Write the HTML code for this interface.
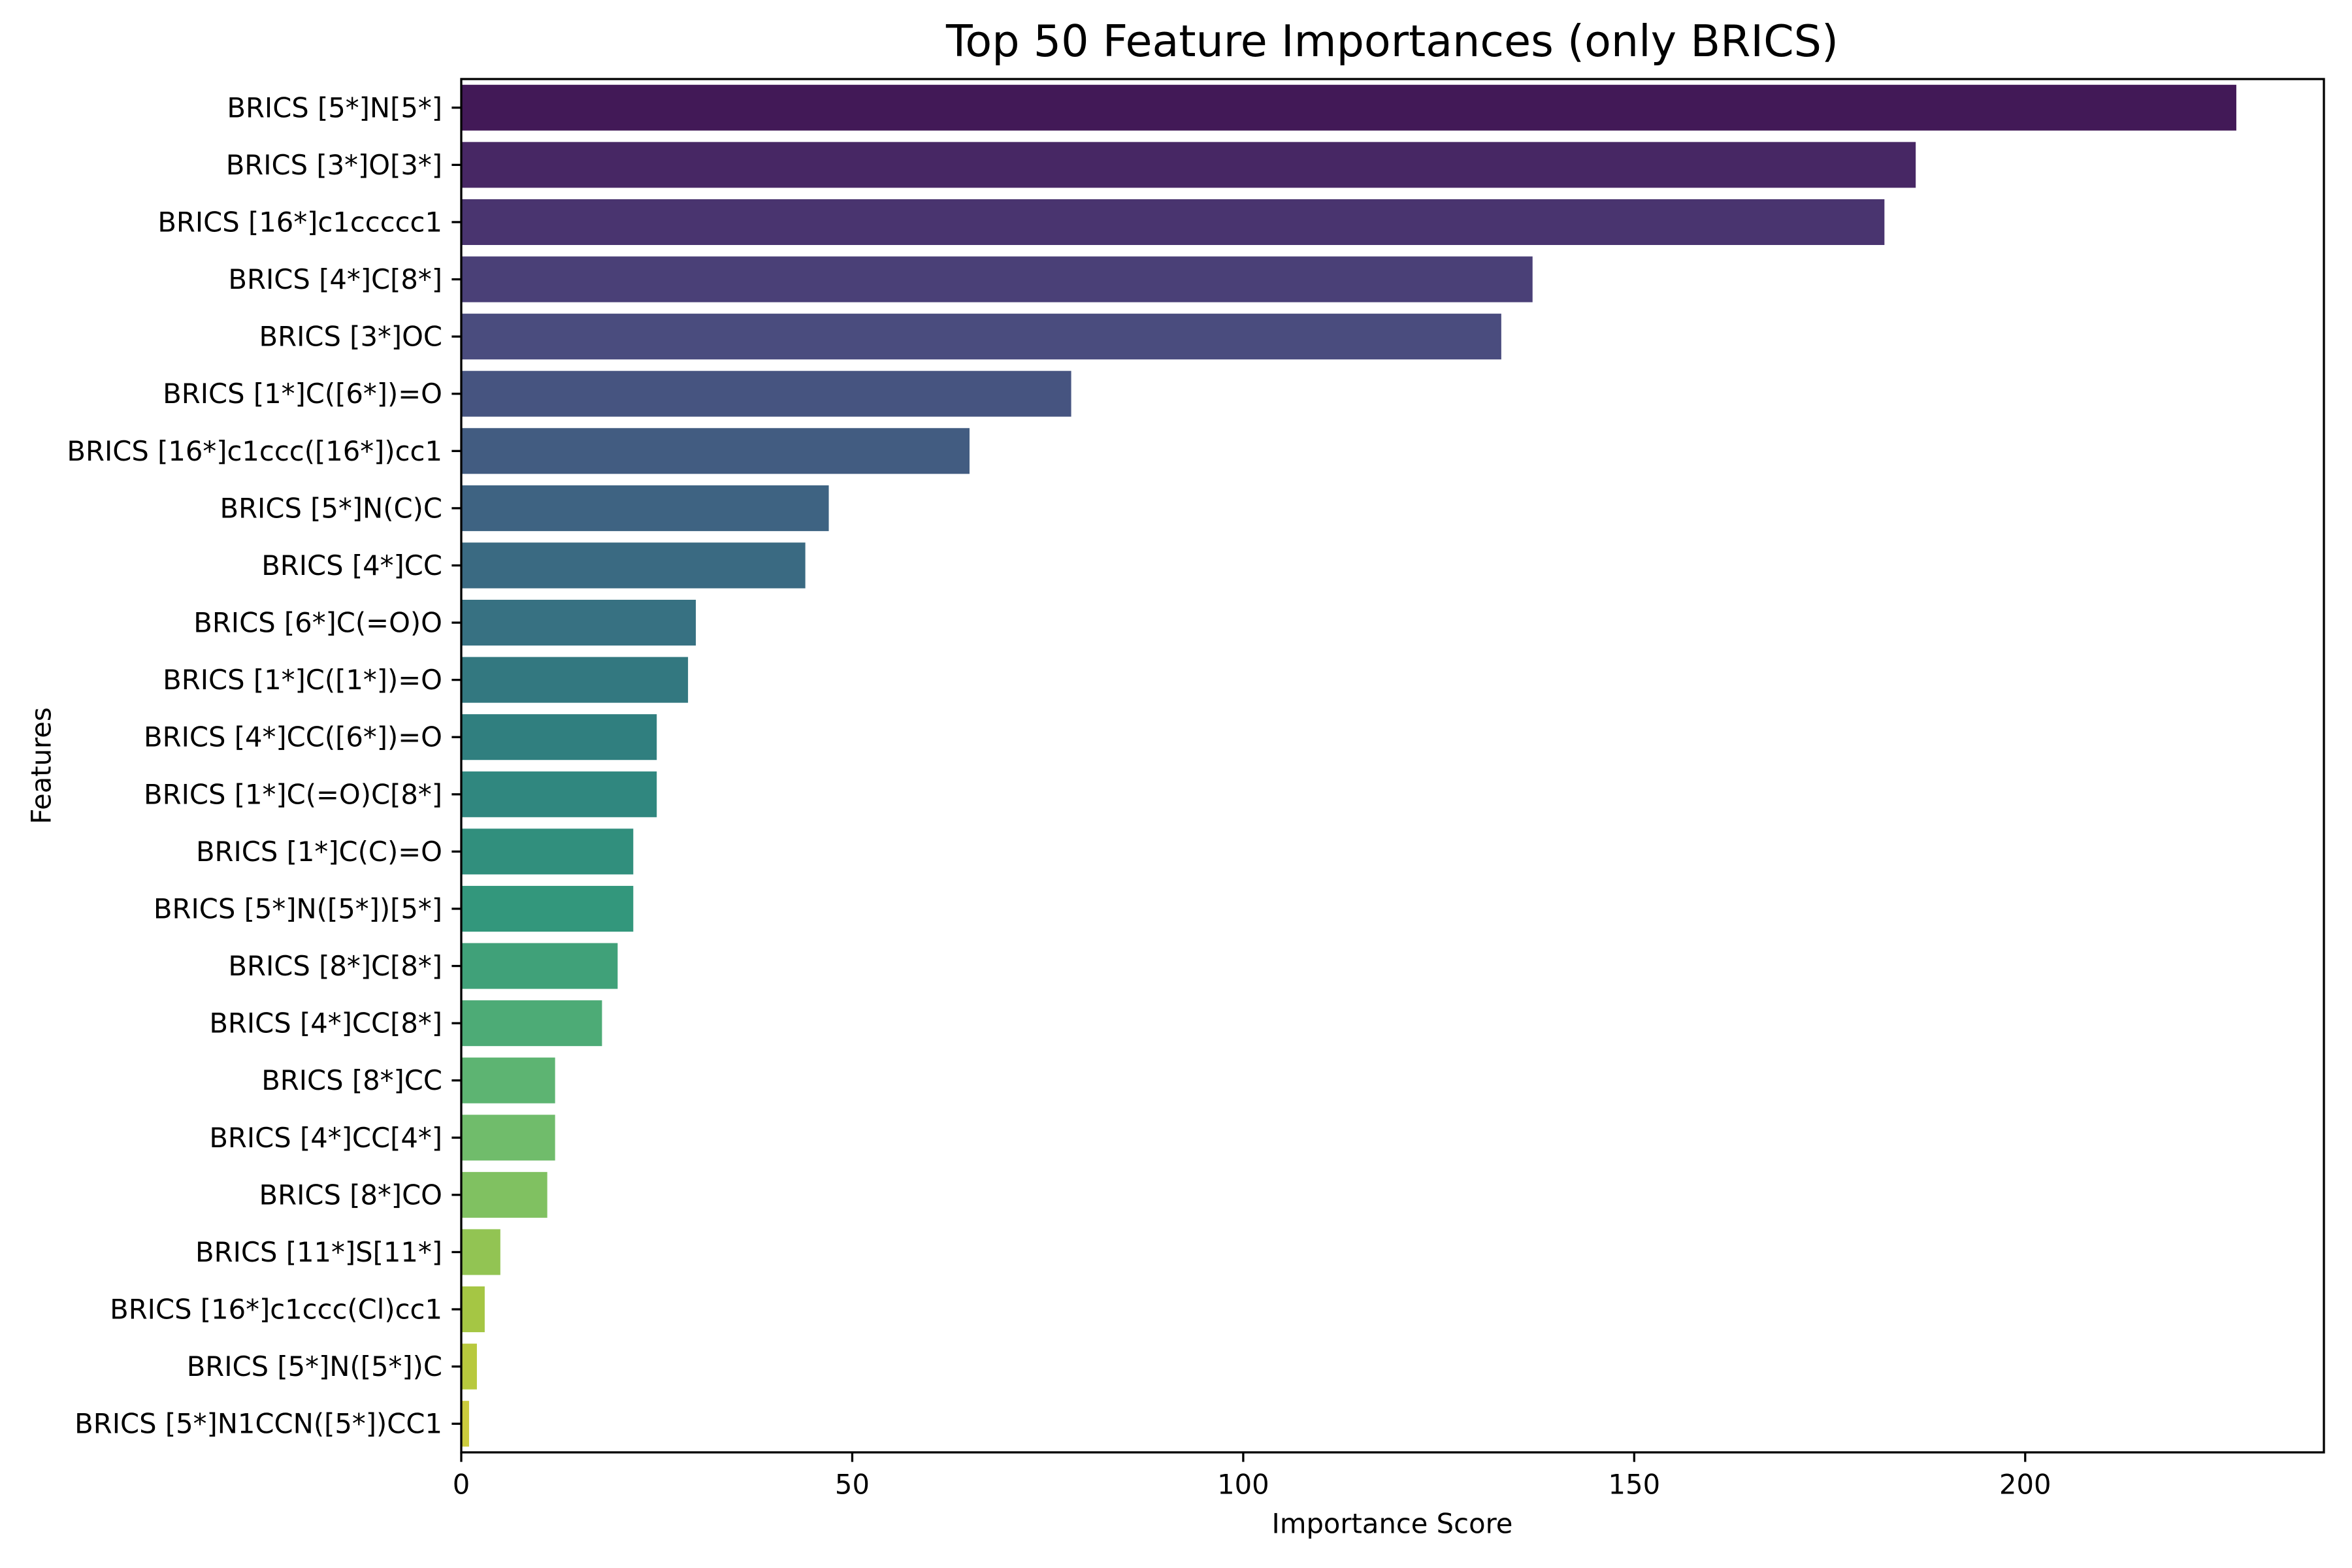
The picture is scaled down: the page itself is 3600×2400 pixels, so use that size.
<!DOCTYPE html>
<html><head><meta charset="utf-8">
<style>
html,body{margin:0;padding:0;background:#fff;}
svg{display:block;}
text{font-family:"DejaVu Sans","Liberation Sans",sans-serif;fill:#000;}
</style></head>
<body>
<svg id="chart" width="3600" height="2400" viewBox="0 0 3600 2400" xmlns="http://www.w3.org/2000/svg">
<rect x="0" y="0" width="3600" height="2400" fill="#fff"/>
<text x="2131" y="63" font-size="66.7" text-anchor="middle" dominant-baseline="central">Top 50 Feature Importances (only BRICS)</text>
<text x="2131" y="2332" font-size="41.7" text-anchor="middle" dominant-baseline="central">Importance Score</text>
<text x="63" y="1172" font-size="41.7" text-anchor="middle" dominant-baseline="central" transform="rotate(-90 63 1172)">Features</text>
<g id="bars"></g>
<g id="yticks"></g>
<g id="xticks"></g>
<rect x="706" y="121" width="2851" height="2102" fill="none" stroke="#000" stroke-width="3.3"/>
</svg>
<script>
const features = ["BRICS [5*]N[5*]","BRICS [3*]O[3*]","BRICS [16*]c1ccccc1","BRICS [4*]C[8*]","BRICS [3*]OC","BRICS [1*]C([6*])=O","BRICS [16*]c1ccc([16*])cc1","BRICS [5*]N(C)C","BRICS [4*]CC","BRICS [6*]C(=O)O","BRICS [1*]C([1*])=O","BRICS [4*]CC([6*])=O","BRICS [1*]C(=O)C[8*]","BRICS [1*]C(C)=O","BRICS [5*]N([5*])[5*]","BRICS [8*]C[8*]","BRICS [4*]CC[8*]","BRICS [8*]CC","BRICS [4*]CC[4*]","BRICS [8*]CO","BRICS [11*]S[11*]","BRICS [16*]c1ccc(Cl)cc1","BRICS [5*]N([5*])C","BRICS [5*]N1CCN([5*])CC1"];
const importance = [227,186,182,137,133,78,65,47,44,30,29,25,25,22,22,20,18,12,12,11,5,3,2,1];
const xTicks = [0,50,100,150,200];

const L=706,R=3557,T=121,B=2223,XMAX=238.2;
const xs=v=>L+v/XMAX*(R-L);
const slot=(B-T)/features.length;
const ys=i=>T+i*slot;
const NS="http://www.w3.org/2000/svg";
const stops=["#440154","#482475","#414487","#355f8d","#2a788e","#21918c","#22a884","#44bf70","#7ad151","#bddf26","#fde725"];
function hex(h){return [1,3,5].map(k=>parseInt(h.substr(k,2),16)/255);}
function viridis(t){const p=t*10,i=Math.min(9,Math.floor(p)),f=p-i;const a=hex(stops[i]),b=hex(stops[i+1]);return a.map((v,k)=>v+(b[k]-v)*f);}
function desat([r,g,b],s){const mx=Math.max(r,g,b),mn=Math.min(r,g,b);let l=(mx+mn)/2,h=0,sa=0;
 if(mx!==mn){const d=mx-mn;sa=l>0.5?d/(2-mx-mn):d/(mx+mn);
 if(mx===r)h=((g-b)/d+(g<b?6:0));else if(mx===g)h=(b-r)/d+2;else h=(r-g)/d+4;h/=6;}
 sa*=s;const q=l<0.5?l*(1+sa):l+sa-l*sa,p=2*l-q;
 const f=t=>{if(t<0)t+=1;if(t>1)t-=1;if(t<1/6)return p+(q-p)*6*t;if(t<1/2)return q;if(t<2/3)return p+(q-p)*(2/3-t)*6;return p;};
 return sa===0?[l,l,l]:[f(h+1/3),f(h),f(h-1/3)];}
const toCss=c=>"rgb("+c.map(v=>Math.round(v*255)).join(",")+")";
const gb=document.getElementById("bars"),gy=document.getElementById("yticks"),gx=document.getElementById("xticks");
const n=features.length;
importance.forEach((v,i)=>{
 const r=document.createElementNS(NS,"rect");
 
 
 r.setAttribute("x",xs(0));r.setAttribute("y",ys(i)+slot*0.1);
 r.setAttribute("width",xs(v)-xs(0));r.setAttribute("height",slot*0.8);
 r.setAttribute("fill",toCss(desat(viridis((i+1)/(n+1)),0.75)));
 gb.appendChild(r);
});
features.forEach((f,i)=>{
 const cy=ys(i)+slot/2;
 const ln=document.createElementNS(NS,"line");
 
 
 ln.setAttribute("x1",L-14.6);ln.setAttribute("x2",L);ln.setAttribute("y1",cy);ln.setAttribute("y2",cy);
 ln.setAttribute("stroke","#000");ln.setAttribute("stroke-width","3.3");gy.appendChild(ln);
 const t=document.createElementNS(NS,"text");
 
 
 t.setAttribute("x",L-29);t.setAttribute("y",cy);t.setAttribute("font-size","41.7");
 t.setAttribute("text-anchor","end");t.setAttribute("dominant-baseline","central");
 t.textContent=f;gy.appendChild(t);
});
xTicks.forEach(v=>{
 const x=xs(v);
 const ln=document.createElementNS(NS,"line");
 
 
 ln.setAttribute("x1",x);ln.setAttribute("x2",x);ln.setAttribute("y1",B);ln.setAttribute("y2",B+14.6);
 ln.setAttribute("stroke","#000");ln.setAttribute("stroke-width","3.3");gx.appendChild(ln);
 const t=document.createElementNS(NS,"text");
 
 
 t.setAttribute("x",x);t.setAttribute("y",B+49);t.setAttribute("font-size","41.7");
 t.setAttribute("text-anchor","middle");t.setAttribute("dominant-baseline","central");
 t.textContent=v;gx.appendChild(t);
});
</script>
</body></html>
